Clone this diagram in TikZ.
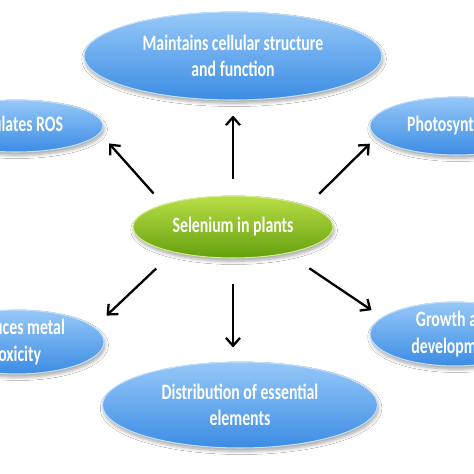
\documentclass[tikz,border=0pt]{standalone}
\usepackage{fontspec}
\setmainfont{Carlito}[FakeStretch=0.72]
\usetikzlibrary{arrows.meta, shapes.geometric, shadows.blur}
\definecolor{bluetop}{RGB}{150,200,248}
\definecolor{bluebot}{RGB}{60,140,228}
\definecolor{greentop}{RGB}{185,222,70}
\definecolor{greenbot}{RGB}{100,160,15}
\tikzset{
  % Graph arrow style
  garr/.style={
    line width = 1.3pt
  },
  % Ellipse styles
  bubble/.style={
    ellipse, inner sep=0pt, align=center,
    top color=bluetop, bottom color=bluebot,
    draw=bluetop!60!white, line width=0.6pt,
    text=white, font=\bfseries\fontsize{12.5}{15}\selectfont,
    blur shadow={shadow xshift=0.6pt, shadow yshift=-1.8pt,
                 shadow blur steps=6, shadow opacity=35}
  },
  hub/.style={
    bubble, top color=greentop, bottom color=greenbot,
    draw=greentop!60!white
  },
}

\begin{document}
\begin{tikzpicture}
          [x=0.02cm, y=-0.02cm]
          \useasboundingbox (0,0) rectangle (474,474);
          \clip (0,0) rectangle (474,474);
          \fill[white] (0,0) rectangle (474,474);

          \node (sel) [hub
                      , minimum width=4cm, minimum height=1.24cm]
                      at (233,227) {Selenium in plants};

          \node (top) [bubble
                      , minimum width=5.96cm, minimum height=1.76cm]
                      at (233,56) {Maintains cellular structure\\and function};
          \node (ros) [bubble
                      , minimum width=3.48cm, minimum height=1.04cm]
                      at (16,126) {Regulates ROS};
          \node (photo) [bubble
                      , minimum width=3.48cm, minimum height=1.16cm]
                      at (457,126) {Photosynthesis};
          \node (metal) [bubble
                      , minimum width=3.48cm, minimum height=1.04cm]
                      at (17,342) {Reduces metal\\toxicity};
          \node (growth) [bubble
                      , minimum width=3.4cm, minimum height=1.04cm]
                      at (455,334) {Growth and\\development};
          \node (dist) [bubble
                      , minimum width=5.5cm, minimum height=1.72cm]
                      at (240,405) {Distribution of essential\\elements};

          \draw[-{Straight Barb[length=4.5pt,width=8pt]},garr
               , shorten <=0.32cm, shorten >=0.3cm] (sel.north) -- (top.south);
          \draw[-{Straight Barb[length=4.5pt,width=8pt]},garr
               , shorten <=0.5cm, shorten >=0.28cm] (sel.south) -- (sel.south |- dist.north);

          \draw[-{Straight Barb[length=4.5pt,width=8pt]},garr
               , shorten <=0.29cm, shorten >=0.27cm] (sel.162.5) -- (ros.-5.4);
          \draw[-{Straight Barb[length=4.5pt,width=8pt]},garr
               , shorten <=0.34cm, shorten >=0.18cm] (sel.16.4) -- (photo.188.4);
          \draw[-{Straight Barb[length=4.5pt,width=8pt]},garr
               , shorten <=0.47cm, shorten >=0.33cm] (sel.203.9) -- (metal.11.1);
          \draw[-{Straight Barb[length=4.5pt,width=8pt]},garr
               , shorten <=0.53cm, shorten >=0.25cm] (sel.-26.5) -- (growth.167.8);
      \end{tikzpicture}
\end{document}
